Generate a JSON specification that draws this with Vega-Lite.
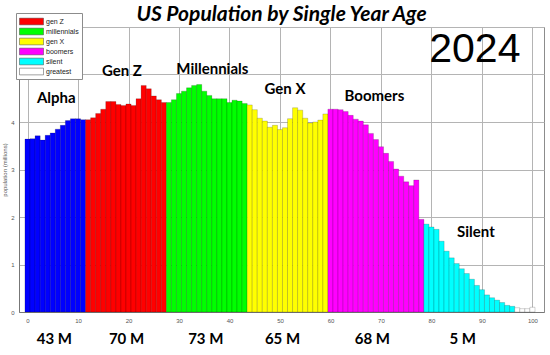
{
  "$schema": "https://vega.github.io/schema/vega-lite/v6.json",
  "width": 525,
  "height": 285,
  "autosize": {"type": "none"},
  "padding": {"left": 19, "top": 27, "right": 6, "bottom": 43},
  "background": "white",
  "title": {
    "text": "US Population by Single Year Age",
    "font": "Lato",
    "fontSize": 21,
    "fontWeight": "bold",
    "fontStyle": "italic",
    "color": "black",
    "anchor": "middle",
    "offset": -12
  },
  "config": {
    "view": {"stroke": "#8c8c8c", "strokeWidth": 1},
    "axis": {
      "labelFont": "Liberation Sans",
      "labelFontSize": 6,
      "labelColor": "#555555",
      "titleFont": "Liberation Sans",
      "titleFontSize": 6,
      "titleFontWeight": "normal",
      "titleColor": "#555555",
      "domainColor": "#777777",
      "gridColor": "#b4b4b4",
      "gridOpacity": 1,
      "gridWidth": 1,
      "ticks": false
    }
  },
  "datasets": {
    "bars": [
      {"age": 0, "pop": 3.64, "gen": "alpha"},
      {"age": 1, "pop": 3.65, "gen": "alpha"},
      {"age": 2, "pop": 3.71, "gen": "alpha"},
      {"age": 3, "pop": 3.62, "gen": "alpha"},
      {"age": 4, "pop": 3.72, "gen": "alpha"},
      {"age": 5, "pop": 3.77, "gen": "alpha"},
      {"age": 6, "pop": 3.85, "gen": "alpha"},
      {"age": 7, "pop": 3.93, "gen": "alpha"},
      {"age": 8, "pop": 4.03, "gen": "alpha"},
      {"age": 9, "pop": 4.07, "gen": "alpha"},
      {"age": 10, "pop": 4.07, "gen": "alpha"},
      {"age": 11, "pop": 4.05, "gen": "alpha"},
      {"age": 12, "pop": 4.05, "gen": "gen Z"},
      {"age": 13, "pop": 4.09, "gen": "gen Z"},
      {"age": 14, "pop": 4.18, "gen": "gen Z"},
      {"age": 15, "pop": 4.27, "gen": "gen Z"},
      {"age": 16, "pop": 4.43, "gen": "gen Z"},
      {"age": 17, "pop": 4.43, "gen": "gen Z"},
      {"age": 18, "pop": 4.37, "gen": "gen Z"},
      {"age": 19, "pop": 4.35, "gen": "gen Z"},
      {"age": 20, "pop": 4.38, "gen": "gen Z"},
      {"age": 21, "pop": 4.35, "gen": "gen Z"},
      {"age": 22, "pop": 4.49, "gen": "gen Z"},
      {"age": 23, "pop": 4.77, "gen": "gen Z"},
      {"age": 24, "pop": 4.70, "gen": "gen Z"},
      {"age": 25, "pop": 4.55, "gen": "gen Z"},
      {"age": 26, "pop": 4.47, "gen": "gen Z"},
      {"age": 27, "pop": 4.41, "gen": "gen Z"},
      {"age": 28, "pop": 4.41, "gen": "millennials"},
      {"age": 29, "pop": 4.47, "gen": "millennials"},
      {"age": 30, "pop": 4.60, "gen": "millennials"},
      {"age": 31, "pop": 4.65, "gen": "millennials"},
      {"age": 32, "pop": 4.72, "gen": "millennials"},
      {"age": 33, "pop": 4.77, "gen": "millennials"},
      {"age": 34, "pop": 4.79, "gen": "millennials"},
      {"age": 35, "pop": 4.65, "gen": "millennials"},
      {"age": 36, "pop": 4.56, "gen": "millennials"},
      {"age": 37, "pop": 4.49, "gen": "millennials"},
      {"age": 38, "pop": 4.49, "gen": "millennials"},
      {"age": 39, "pop": 4.49, "gen": "millennials"},
      {"age": 40, "pop": 4.41, "gen": "millennials"},
      {"age": 41, "pop": 4.46, "gen": "millennials"},
      {"age": 42, "pop": 4.44, "gen": "millennials"},
      {"age": 43, "pop": 4.39, "gen": "millennials"},
      {"age": 44, "pop": 4.36, "gen": "gen X"},
      {"age": 45, "pop": 4.26, "gen": "gen X"},
      {"age": 46, "pop": 4.08, "gen": "gen X"},
      {"age": 47, "pop": 4.02, "gen": "gen X"},
      {"age": 48, "pop": 3.89, "gen": "gen X"},
      {"age": 49, "pop": 3.93, "gen": "gen X"},
      {"age": 50, "pop": 3.84, "gen": "gen X"},
      {"age": 51, "pop": 3.88, "gen": "gen X"},
      {"age": 52, "pop": 4.07, "gen": "gen X"},
      {"age": 53, "pop": 4.30, "gen": "gen X"},
      {"age": 54, "pop": 4.25, "gen": "gen X"},
      {"age": 55, "pop": 4.08, "gen": "gen X"},
      {"age": 56, "pop": 3.98, "gen": "gen X"},
      {"age": 57, "pop": 4.00, "gen": "gen X"},
      {"age": 58, "pop": 4.04, "gen": "gen X"},
      {"age": 59, "pop": 4.17, "gen": "gen X"},
      {"age": 60, "pop": 4.27, "gen": "boomers"},
      {"age": 61, "pop": 4.27, "gen": "boomers"},
      {"age": 62, "pop": 4.26, "gen": "boomers"},
      {"age": 63, "pop": 4.22, "gen": "boomers"},
      {"age": 64, "pop": 4.14, "gen": "boomers"},
      {"age": 65, "pop": 4.06, "gen": "boomers"},
      {"age": 66, "pop": 4.02, "gen": "boomers"},
      {"age": 67, "pop": 3.94, "gen": "boomers"},
      {"age": 68, "pop": 3.76, "gen": "boomers"},
      {"age": 69, "pop": 3.63, "gen": "boomers"},
      {"age": 70, "pop": 3.48, "gen": "boomers"},
      {"age": 71, "pop": 3.34, "gen": "boomers"},
      {"age": 72, "pop": 3.17, "gen": "boomers"},
      {"age": 73, "pop": 3.01, "gen": "boomers"},
      {"age": 74, "pop": 2.86, "gen": "boomers"},
      {"age": 75, "pop": 2.74, "gen": "boomers"},
      {"age": 76, "pop": 2.66, "gen": "boomers"},
      {"age": 77, "pop": 2.78, "gen": "boomers"},
      {"age": 78, "pop": 1.95, "gen": "boomers"},
      {"age": 79, "pop": 1.85, "gen": "silent"},
      {"age": 80, "pop": 1.79, "gen": "silent"},
      {"age": 81, "pop": 1.74, "gen": "silent"},
      {"age": 82, "pop": 1.49, "gen": "silent"},
      {"age": 83, "pop": 1.28, "gen": "silent"},
      {"age": 84, "pop": 1.14, "gen": "silent"},
      {"age": 85, "pop": 1.02, "gen": "silent"},
      {"age": 86, "pop": 0.91, "gen": "silent"},
      {"age": 87, "pop": 0.81, "gen": "silent"},
      {"age": 88, "pop": 0.69, "gen": "silent"},
      {"age": 89, "pop": 0.56, "gen": "silent"},
      {"age": 90, "pop": 0.47, "gen": "silent"},
      {"age": 91, "pop": 0.36, "gen": "silent"},
      {"age": 92, "pop": 0.30, "gen": "silent"},
      {"age": 93, "pop": 0.25, "gen": "silent"},
      {"age": 94, "pop": 0.20, "gen": "silent"},
      {"age": 95, "pop": 0.14, "gen": "silent"},
      {"age": 96, "pop": 0.12, "gen": "silent"},
      {"age": 97, "pop": 0.09, "gen": "greatest"},
      {"age": 98, "pop": 0.07, "gen": "greatest"},
      {"age": 99, "pop": 0.07, "gen": "greatest"},
      {"age": 100, "pop": 0.10, "gen": "greatest"}
    ],
    "genLabels": [
      {"label": "Alpha", "age": 5.7, "pop": 4.5},
      {"label": "Gen Z", "age": 18.7, "pop": 5.07},
      {"label": "Millennials", "age": 36.6, "pop": 5.11},
      {"label": "Gen X", "age": 51.0, "pop": 4.69},
      {"label": "Boomers", "age": 68.7, "pop": 4.54},
      {"label": "Silent", "age": 88.8, "pop": 1.68}
    ],
    "totals": [
      {"label": "43 M", "age": 5.3, "pop": -0.57},
      {"label": "70 M", "age": 19.6, "pop": -0.57},
      {"label": "73 M", "age": 35.3, "pop": -0.57},
      {"label": "65 M", "age": 50.5, "pop": -0.57},
      {"label": "68 M", "age": 68.3, "pop": -0.57},
      {"label": "5 M", "age": 86.2, "pop": -0.57}
    ],
    "year": [
      {"label": "2024", "age": 88.6, "pop": 5.51}
    ]
  },
  "encoding": {
    "x": {
      "field": "age",
      "type": "quantitative",
      "scale": {"domain": [-0.7, 101.3], "nice": false, "zero": false},
      "axis": {"values": [0, 10, 20, 30, 40, 50, 60, 70, 80, 90, 100], "title": null, "labelPadding": 5, "grid": true}
    },
    "y": {
      "field": "pop",
      "type": "quantitative",
      "scale": {"domain": [0, 6], "nice": false},
      "axis": {"values": [0, 1, 2, 3, 4, 5, 6], "labelExpr": "datum.value <= 4 ? datum.label : ''", "title": "population (millions)", "labelPadding": 5, "titlePadding": 3, "grid": true}
    }
  },
  "layer": [
    {
      "data": {"name": "bars"},
      "mark": {"type": "bar", "size": 5.147, "stroke": "#000000", "strokeWidth": 0.5, "strokeOpacity": 0.35},
      "encoding": {
        "color": {
          "field": "gen",
          "type": "nominal",
          "scale": {
            "domain": ["alpha", "gen Z", "millennials", "gen X", "boomers", "silent", "greatest"],
            "range": ["#0000ff", "#ff0000", "#00ff00", "#ffff00", "#ff00ff", "#00ffff", "#ffffff"]
          },
          "legend": {
            "values": ["gen Z", "millennials", "gen X", "boomers", "silent", "greatest"],
            "title": null,
            "orient": "none",
            "legendX": -3,
            "legendY": -14,
            "symbolType": "M-1,-0.67H3.8V0.67H-1Z",
            "symbolSize": 100,
            "symbolOpacity": 1,
            "symbolStrokeColor": "#444444",
            "symbolStrokeWidth": 0.5,
            "labelFont": "Liberation Sans",
            "labelFontSize": 7,
            "labelColor": "#222222",
            "labelOffset": 16,
            "rowPadding": 0,
            "padding": 3,
            "strokeColor": "#8c8c8c",
            "fillColor": "#ffffff"
          }
        }
      }
    },
    {
      "data": {"name": "genLabels"},
      "mark": {"type": "text", "font": "Lato", "fontSize": 15, "fontWeight": "bold", "color": "#000000", "baseline": "middle", "align": "center"},
      "encoding": {"text": {"field": "label"}}
    },
    {
      "data": {"name": "totals"},
      "mark": {"type": "text", "font": "Lato", "fontSize": 15, "fontWeight": "bold", "color": "#000000", "baseline": "middle", "align": "center"},
      "encoding": {"text": {"field": "label"}}
    },
    {
      "data": {"name": "year"},
      "mark": {"type": "text", "font": "Liberation Sans", "fontSize": 41, "color": "#000000", "baseline": "middle", "align": "center"},
      "encoding": {"text": {"field": "label"}}
    }
  ]
}
